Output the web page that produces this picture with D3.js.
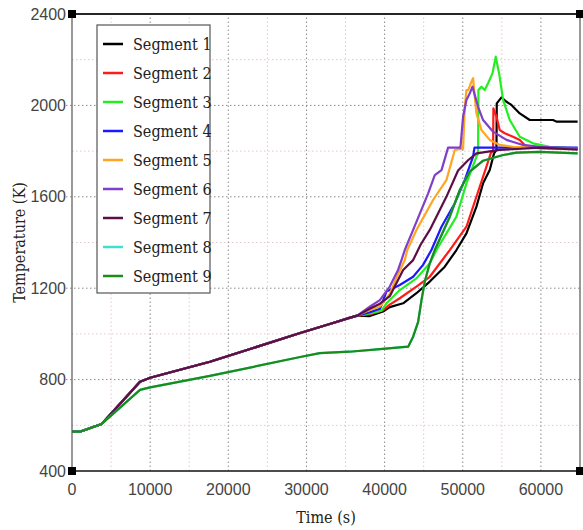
<!DOCTYPE html>
<html>
<head>
<meta charset="utf-8">
<script src="https://cdn.jsdelivr.net/npm/d3@7"></script>
<style>
  body { margin: 0; background: #fff; }
  .tick-lbl { font-family: "Liberation Sans Narrow", "Liberation Sans", sans-serif; font-size: 16px; fill: #444; }
  .serif { font-family: "DejaVu Serif Condensed", "DejaVu Serif", serif; font-stretch: condensed; fill: #222; }
</style>
</head>
<body>
<div id="chart"></div>
<script>
// shared heating curve (segments 1-7 overlap until ~36000 s)
const head = [[0, 572], [1000, 572], [3800, 606], [8700, 791], [10000, 808], [17650, 878],
  [29200, 1004], [33400, 1048], [35500, 1070], [36500, 1080]];

const seg1 = head.concat([[38100, 1078], [39800, 1098], [40660, 1117], [42370, 1134], [44070, 1178],
  [45780, 1229], [47700, 1294], [49190, 1367], [50470, 1440], [51750, 1557], [52600, 1659],
  [53450, 1717], [54000, 1790], [54310, 1805], [54350, 2009], [54950, 2035], [55590, 2016],
  [56230, 2002], [57290, 1965], [58570, 1936], [61550, 1936], [61980, 1929], [64700, 1929]]);
const seg2 = head.concat([[38100, 1085], [39800, 1104], [40660, 1128], [41940, 1156], [44070, 1207],
  [45780, 1250], [48340, 1367], [50470, 1469], [52170, 1644], [53030, 1732], [53600, 1792],
  [53880, 1800], [53920, 1987], [54310, 1951], [54730, 1892], [55370, 1878], [56430, 1863],
  [57290, 1849], [58140, 1819], [60000, 1812], [64700, 1810]]);
const seg3 = head.concat([[38100, 1090], [39600, 1102], [40240, 1134], [41940, 1192], [44070, 1243],
  [45780, 1309], [46630, 1367], [49190, 1513], [50470, 1659], [51750, 1776], [51960, 1790],
  [52000, 2067], [52390, 2082], [52810, 2067], [53240, 2097], [53800, 2140], [54220, 2213],
  [54650, 2140], [55160, 2024], [56010, 1936], [57290, 1863], [58990, 1834], [61120, 1819],
  [64700, 1812]]);
const seg4 = head.concat([[38100, 1095], [39400, 1110], [40240, 1185], [41940, 1214], [43650, 1250],
  [44920, 1302], [45990, 1367], [47280, 1469], [48980, 1572], [50260, 1674], [51320, 1776],
  [51500, 1815], [64700, 1815]]);
const seg5 = head.concat([[38100, 1105], [39400, 1120], [40660, 1175], [41700, 1260], [42580, 1323],
  [42900, 1367], [44070, 1455], [46200, 1586], [47920, 1674], [48980, 1805], [49700, 1810],
  [50040, 1810], [50260, 1994], [50470, 2067], [50700, 2067], [51110, 2104], [51320, 2119],
  [51450, 2067], [51750, 1965], [52390, 1892], [53450, 1849], [54730, 1827], [56430, 1819],
  [64700, 1810]]);
const seg6 = head.concat([[38100, 1119], [39390, 1148], [40660, 1207], [41720, 1280], [42160, 1323],
  [42580, 1367], [43650, 1455], [45570, 1615], [46420, 1695], [47280, 1717], [48120, 1815],
  [49700, 1815], [50040, 1951], [50470, 2024], [50900, 2053], [51240, 2082], [51530, 2046],
  [51960, 1994], [52600, 1936], [53880, 1885], [55590, 1849], [57710, 1827], [59850, 1819],
  [64700, 1812]]);
const seg7 = head.concat([[38100, 1110], [39400, 1132], [40660, 1165], [42370, 1280], [43650, 1323],
  [44600, 1390], [45780, 1455], [47920, 1601], [49400, 1715], [50680, 1760], [51750, 1790],
  [54730, 1805], [59850, 1815], [64700, 1806]]);
const seg9 = [[0, 572], [1000, 572], [3800, 606], [8700, 755], [10000, 766], [17650, 816],
  [29200, 899], [31700, 916], [35500, 922], [39400, 933], [43010, 944], [43650, 988],
  [44290, 1053], [44720, 1148], [45140, 1229], [45780, 1309], [46420, 1367], [48340, 1513],
  [49620, 1630], [50900, 1710], [52600, 1758], [55160, 1783], [56860, 1793], [59850, 1797],
  [64700, 1790]];
// segment 8 is hidden under segment 9 in the picture
const seg8 = seg9.slice();

const names = ["Segment 1", "Segment 2", "Segment 3", "Segment 4", "Segment 5",
  "Segment 6", "Segment 7", "Segment 8", "Segment 9"];
const colors = ["#000000", "#ff1a1a", "#22ee22", "#1a1aff", "#ffa51f",
  "#7f3fc8", "#5c0f45", "#3fe0d0", "#1a8c1a"];
const series = [seg1, seg2, seg3, seg4, seg5, seg6, seg7, seg8, seg9];

const xTicks = [0, 10000, 20000, 30000, 40000, 50000, 60000];
const yTicks = [400, 800, 1200, 1600, 2000, 2400];
const xMinor = [5000, 15000, 25000, 35000, 45000, 55000];
const yMinor = [600, 1000, 1400, 1800, 2200];

const W = 583, H = 530;
const margin = { top: 14, right: 3, bottom: 59, left: 72 };

const svg = d3.select("#chart").append("svg").attr("width", W).attr("height", H);

const x = d3.scaleLinear().domain([0, 65000]).range([margin.left, W - margin.right]);
const y = d3.scaleLinear().domain([400, 2400]).range([H - margin.bottom, margin.top]);

// grid
const grid = svg.append("g");
grid.selectAll(".vmin").data(xMinor).join("line")
  .attr("x1", d => x(d)).attr("x2", d => x(d)).attr("y1", y(400)).attr("y2", y(2400))
  .attr("stroke", "#e2c6cc").attr("stroke-dasharray", "1.5,2.5");
grid.selectAll(".hmin").data(yMinor).join("line")
  .attr("x1", x(0)).attr("x2", x(65000)).attr("y1", d => y(d)).attr("y2", d => y(d))
  .attr("stroke", "#e2c6cc").attr("stroke-dasharray", "1.5,2.5");
grid.selectAll(".vmaj").data(xTicks.slice(1)).join("line")
  .attr("x1", d => x(d)).attr("x2", d => x(d)).attr("y1", y(400)).attr("y2", y(2400))
  .attr("stroke", "#8a8a8a").attr("stroke-dasharray", "1.5,2.5");
grid.selectAll(".hmaj").data(yTicks.slice(1, -1)).join("line")
  .attr("x1", x(0) - 6).attr("x2", x(65000)).attr("y1", d => y(d)).attr("y2", d => y(d))
  .attr("stroke", "#8a8a8a").attr("stroke-dasharray", "1.5,2.5");

// lines
const line = d3.line().x(d => x(d[0])).y(d => y(d[1]));
svg.append("g").selectAll("path").data(series).join("path")
  .attr("d", line)
  .attr("fill", "none")
  .attr("stroke", (d, i) => colors[i])
  .attr("stroke-width", 2.2)
  .attr("stroke-linejoin", "round");

// frame
svg.append("rect")
  .attr("x", x(0)).attr("y", y(2400))
  .attr("width", x(65000) - x(0)).attr("height", y(400) - y(2400))
  .attr("fill", "none").attr("stroke", "#555").attr("stroke-width", 1.2);
svg.append("line").attr("x1", x(0)).attr("x2", x(65000)).attr("y1", y(2400)).attr("y2", y(2400))
  .attr("stroke", "#000").attr("stroke-width", 1.5);
svg.append("line").attr("x1", x(0)).attr("x2", x(65000)).attr("y1", y(400)).attr("y2", y(400))
  .attr("stroke", "#000").attr("stroke-width", 1.2);

// corner squares
const corners = [[0, 400], [0, 2400], [65000, 400], [65000, 2400]];
svg.append("g").selectAll("rect").data(corners).join("rect")
  .attr("x", d => x(d[0]) - 4).attr("y", d => y(d[1]) - 4)
  .attr("width", 8).attr("height", 8).attr("fill", "#000");

// tick labels
svg.append("g").selectAll("text").data(yTicks).join("text")
  .attr("class", "tick-lbl")
  .attr("x", x(0) - 6).attr("y", d => y(d) + 5.5)
  .attr("text-anchor", "end").text(d => d);
svg.append("g").selectAll("text").data(xTicks).join("text")
  .attr("class", "tick-lbl")
  .attr("x", d => x(d)).attr("y", y(400) + 24)
  .attr("text-anchor", "middle").text(d => d);

// axis titles
svg.append("text").attr("class", "serif")
  .attr("x", (x(0) + x(65000)) / 2).attr("y", 523)
  .attr("text-anchor", "middle").attr("font-size", 16).text("Time (s)");
svg.append("text").attr("class", "serif")
  .attr("transform", "translate(25," + ((y(400) + y(2400)) / 2) + ") rotate(-90)")
  .attr("text-anchor", "middle").attr("font-size", 16).text("Temperature (K)");

// legend
const lg = svg.append("g");
lg.append("rect").attr("x", 97).attr("y", 25).attr("width", 113).attr("height", 268)
  .attr("fill", "#fff").attr("stroke", "#555").attr("stroke-width", 1.2);
const rows = lg.selectAll("g.row").data(names).join("g")
  .attr("transform", (d, i) => "translate(0," + (44 + i * 29) + ")");
rows.append("line").attr("x1", 103).attr("x2", 123)
  .attr("stroke", (d, i) => colors[i]).attr("stroke-width", 2.5);
rows.append("text").attr("class", "serif").attr("x", 133).attr("y", 6)
  .attr("font-size", 16).text(d => d);
</script>
</body>
</html>
